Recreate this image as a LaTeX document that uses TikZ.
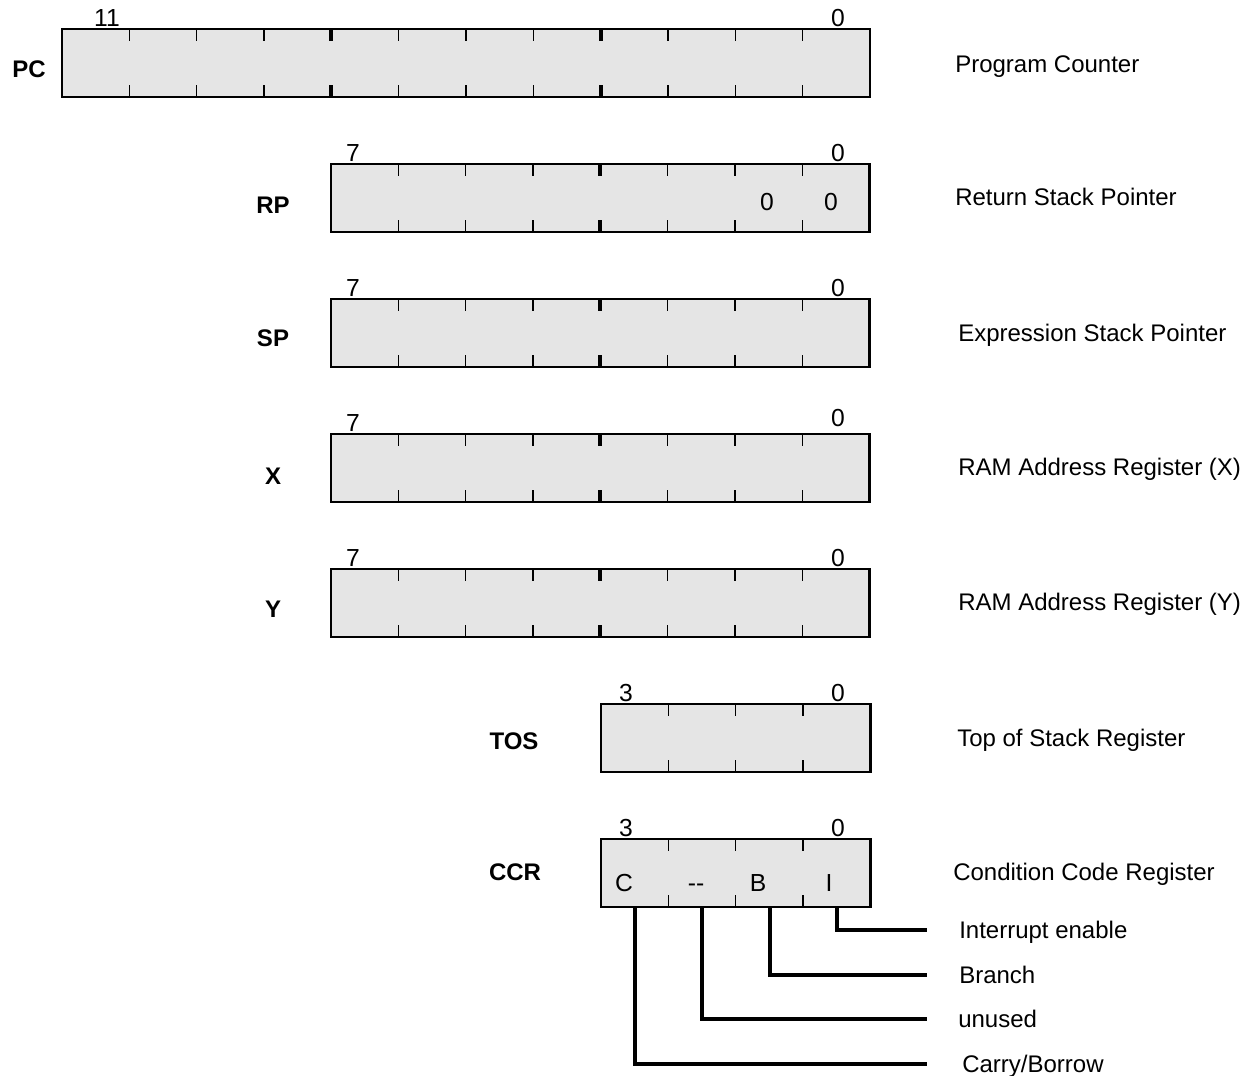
\documentclass[tikz,border=0pt]{standalone}
\usepackage{fontspec}
\setmainfont{Liberation Sans}
\definecolor{regfill}{HTML}{E5E5E5}
\newcommand\regticks[4]{% #1 left x, #2 top y, #3 nbits, #4 nbits-1
  \foreach \i in {1,...,#4}{%
    \pgfmathtruncatemacro\rr{mod(#3-\i,4)}%
    \ifnum\rr=0 \def\tkw{3pt}\else\def\tkw{0.8pt}\fi
    \draw[line width=\tkw] (#1+\i*67.333,#2) -- ++(0,12);
    \draw[line width=\tkw] (#1+\i*67.333,#2+68) -- ++(0,-12);
  }}
\begin{document}
\begin{tikzpicture}[x=0.75pt,y=-0.75pt,
  regbox/.style={draw=black,line width=2.2pt,fill=regfill,inner sep=0pt,outer sep=0pt,
    anchor=north west,minimum height=51pt},
  regname/.style={font=\fontsize{18}{20}\selectfont\bfseries,anchor=base,inner sep=0pt},
  bitnum/.style={font=\fontsize{18.5}{20}\selectfont,anchor=base,inner sep=0pt},
  desc/.style={font=\fontsize{18}{21}\selectfont,anchor=base west,inner sep=0pt},
  conn/.style={line width=3.5pt,line join=miter}]
\useasboundingbox (0,0) rectangle (1251,1075);

% registers
\node[regbox,minimum width=606pt] (pc) at (62,29) {};
\regticks{62}{29}{12}{11}
\node[regbox,minimum width=404pt] (rp) at (331,164) {};
\regticks{331}{164}{8}{7}
\node[regbox,minimum width=404pt] (sp) at (331,299) {};
\regticks{331}{299}{8}{7}
\node[regbox,minimum width=404pt] (xr) at (331,434) {};
\regticks{331}{434}{8}{7}
\node[regbox,minimum width=404pt] (yr) at (331,569) {};
\regticks{331}{569}{8}{7}
\node[regbox,minimum width=202pt] (tos) at (601,704) {};
\regticks{601}{704}{4}{3}
\node[regbox,minimum width=202pt] (ccr) at (601,839) {};
\regticks{601}{839}{4}{3}

% register names
\node[regname] (lpc) at (29,77) {PC};
\node[regname] (lrp) at (273,213) {RP};
\node[regname] (lsp) at (273,346) {SP};
\node[regname] (lx) at (273,484) {X};
\node[regname] (ly) at (273,617) {Y};
\node[regname] (ltos) at (514,749) {TOS};
\node[regname] (lccr) at (515,880) {CCR};

% bit numbers
\node[bitnum] (pc11) at (107,26) {11};
\node[bitnum] (pc0) at (838,26) {0};
\node[bitnum] (rp7) at (353,161) {7};
\node[bitnum] (rp0) at (838,161) {0};
\node[bitnum] (sp7) at (353,296) {7};
\node[bitnum] (sp0) at (838,296) {0};
\node[bitnum] (x7) at (353,431) {7};
\node[bitnum] (x0) at (838,426) {0};
\node[bitnum] (y7) at (353,566) {7};
\node[bitnum] (y0) at (838,566) {0};
\node[bitnum] (tos3) at (626,701) {3};
\node[bitnum] (tos0) at (838,701) {0};
\node[bitnum] (ccr3) at (626,836) {3};
\node[bitnum] (ccr0) at (838,836) {0};

% fixed bits in RP
\node[bitnum] (rpb1) at (767,210) {0};
\node[bitnum] (rpb0) at (831,210) {0};

% CCR bit letters
\node[bitnum] (fc) at (624,891) {C};
\node[bitnum] (fu) at (696,891) {\mbox{-}\mbox{-}};
\node[bitnum] (fb) at (758,891) {B};
\node[bitnum] (fi) at (829,891) {I};

% descriptions
\node[desc] (dpc) at (955,72) {Program Counter};
\node[desc] (drp) at (955,205) {Return Stack Pointer};
\node[desc] (dsp) at (958,341) {Expression Stack Pointer};
\node[desc] (dx) at (958,475) {RAM Address Register (X)};
\node[desc] (dy) at (958,610) {RAM Address Register (Y)};
\node[desc] (dtos) at (957,746) {Top of Stack Register};
\node[desc] (dccr) at (953,880) {Condition Code Register};
\node[desc] (dI) at (959,938) {Interrupt enable};
\node[desc] (dB) at (959,983) {Branch};
\node[desc] (dU) at (958,1027) {unused};
\node[desc] (dC) at (962,1072) {Carry/Borrow};

% connectors from CCR bits
\coordinate (bI) at (837,907);
\coordinate (bB) at (770,907);
\coordinate (bU) at (702,907);
\coordinate (bC) at (635,907);
\coordinate (eI) at (927,930);
\coordinate (eB) at (927,975);
\coordinate (eU) at (927,1019);
\coordinate (eC) at (927,1064);
\draw[conn] (bI) |- (eI);
\draw[conn] (bB) |- (eB);
\draw[conn] (bU) |- (eU);
\draw[conn] (bC) |- (eC);
\end{tikzpicture}
\end{document}
